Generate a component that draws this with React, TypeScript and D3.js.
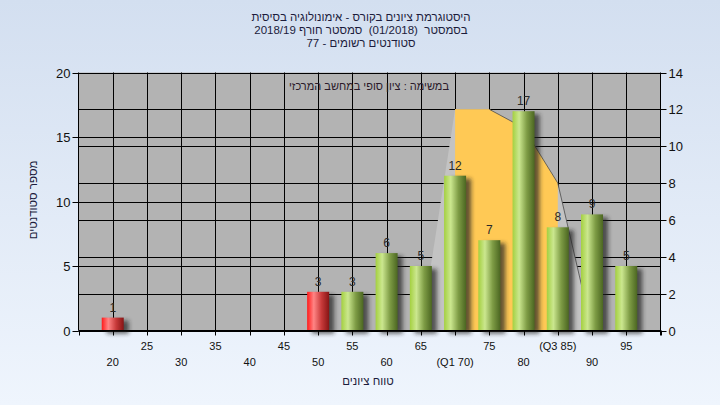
import React from "react";
import * as d3 from "d3";

const titleLines = [
  "היסטוגרמת ציונים בקורס - אימונולוגיה בסיסית",
  "בסמסטר  (01/2018)  סמסטר חורף 2018/19",
  "סטודנטים רשומים - 77",
];
const subTitle = "במשימה : ציון סופי במחשב המרכזי";
const yTitle = "מספר סטודנטים";
const xTitle = "טווח ציונים";

const categories = [20, 25, 30, 35, 40, 45, 50, 55, 60, 65, 70, 75, 80, 85, 90, 95];
const counts = [1, 0, 0, 0, 0, 0, 3, 3, 6, 5, 12, 7, 17, 8, 9, 5];
const passThreshold = 55;
const curveX = [65, 70, 75, 80, 85, 90];
const curveY = [0, 12, 12, 11, 8, 0];
const q1 = 70;
const q3 = 85;
const leftTicks = [0, 5, 10, 15, 20];
const rightTicks = [0, 2, 4, 6, 8, 10, 12, 14];
const xTickValues = [15, 20, 25, 30, 35, 40, 45, 50, 55, 60, 65, 70, 75, 80, 85, 90, 95, 100];

export default function App() {
  const W = 720, H = 405;
  const L = 78.5, R = 660.5, T = 72.5, B = 330.5;
  const x = d3.scaleLinear().domain([15, 100]).range([L, R]);
  const yL = d3.scaleLinear().domain([0, 20]).range([B, T]);
  const yR = d3.scaleLinear().domain([0, 14]).range([B, T]);
  const bw = 22;
  const font = "'Liberation Sans', Arial, sans-serif";

  const pts = curveX.map((v, i) => [v, curveY[i]] as [number, number]);
  const area = d3.area<[number, number]>().x(d => x(d[0])).y0(B).y1(d => yR(d[1]));
  const line = d3.line<[number, number]>().x(d => x(d[0])).y(d => yR(d[1]));
  const qPts = pts.filter(d => d[0] >= q1 && d[0] <= q3);
  const tailPts = pts.filter(d => d[0] >= 75);

  const labelFor = (c: number) => {
    if (c === q1) return `(Q1 ${c})`;
    if (c === q3) return `(Q3 ${c})`;
    return String(c);
  };

  return (
    <svg width={W} height={H} style={{ position: "absolute", left: 0, top: 0 }} fontFamily={font}>
      <defs>
        <linearGradient id="bg" x1="0" y1="0" x2="0" y2="1">
          <stop offset="0" stopColor="#d3dff0" />
          <stop offset="1" stopColor="#eff5fd" />
        </linearGradient>
        <linearGradient id="green" x1="0" y1="0" x2="1" y2="0">
          <stop offset="0" stopColor="#a4d040" />
          <stop offset="0.3" stopColor="#cbe78f" />
          <stop offset="0.65" stopColor="#7e9c45" />
          <stop offset="1" stopColor="#4b6621" />
        </linearGradient>
        <linearGradient id="red" x1="0" y1="0" x2="1" y2="0">
          <stop offset="0" stopColor="#ff1a1a" />
          <stop offset="0.3" stopColor="#ff8585" />
          <stop offset="0.65" stopColor="#c83a3a" />
          <stop offset="1" stopColor="#861414" />
        </linearGradient>
        <filter id="blur" x="-50%" y="-50%" width="200%" height="200%">
          <feGaussianBlur stdDeviation="2.2" />
        </filter>
      </defs>
      <rect x={0} y={0} width={W} height={H} fill="url(#bg)" />

      {titleLines.map((t, i) => (
        <text key={i} x={361} y={21 + i * 13} fontSize={11.5} textAnchor="middle" direction="rtl"
          style={{ whiteSpace: "pre" }} fill="#1c1c3c">{t}</text>
      ))}

      <rect x={L} y={T} width={R - L} height={B - T} fill="#b3b3b3" />

      {leftTicks.map(v => (
        <line key={"gl" + v} x1={L} x2={R} y1={Math.round(yL(v)) + 0.5} y2={Math.round(yL(v)) + 0.5} stroke="#000" />
      ))}
      {rightTicks.map(v => (
        <line key={"gr" + v} x1={L} x2={R} y1={Math.round(yR(v)) + 0.5} y2={Math.round(yR(v)) + 0.5} stroke="#000" />
      ))}
      {categories.map(c => (
        <line key={"gv" + c} x1={Math.round(x(c)) + 0.5} x2={Math.round(x(c)) + 0.5} y1={T} y2={B} stroke="#000" />
      ))}

      <path d={area(pts) || ""} fill="#c3c3c3" />
      <path d={area(qPts) || ""} fill="#ffc955" />
      <path d={line(tailPts) || ""} fill="none" stroke="#4a4a4a" strokeWidth={1} opacity={0.8} />

      <text x={369} y={90} fontSize={11} textAnchor="middle" direction="rtl" fill="#2a1a2a">{subTitle}</text>

      {categories.map((c, i) => {
        const v = counts[i];
        if (!v) return null;
        const cx = x(c);
        const top = yL(v);
        return (
          <g key={"b" + c}>
            <rect x={cx - bw / 2 + 5} y={top + 3} width={bw} height={B - top} fill="#202020" opacity={0.7} filter="url(#blur)" />
            <rect x={cx - bw / 2} y={top} width={bw} height={B - top} fill={c < passThreshold ? "url(#red)" : "url(#green)"} />
            <text x={cx} y={top - 6} fontSize={12} textAnchor="middle" fill="#2a2a2a">{v}</text>
          </g>
        );
      })}

      <line x1={L} x2={L} y1={T} y2={B} stroke="#000" />
      <line x1={R} x2={R} y1={T} y2={B + 5} stroke="#000" />
      <line x1={L} x2={R} y1={B} y2={B} stroke="#000" />
      {leftTicks.map(v => (
        <g key={"lt" + v}>
          <line x1={L - 6} x2={L} y1={Math.round(yL(v)) + 0.5} y2={Math.round(yL(v)) + 0.5} stroke="#000" />
          <text x={L - 8} y={yL(v) + 5} fontSize={13} textAnchor="end" fill="#111">{v}</text>
        </g>
      ))}
      {rightTicks.map(v => (
        <g key={"rt" + v}>
          <line x1={R} x2={R + 6} y1={Math.round(yR(v)) + 0.5} y2={Math.round(yR(v)) + 0.5} stroke="#000" />
          <text x={R + 8} y={yR(v) + 5} fontSize={13} textAnchor="start" fill="#111">{v}</text>
        </g>
      ))}
      {xTickValues.map(v => (
        <line key={"xt" + v} x1={Math.round(x(v)) + 0.5} x2={Math.round(x(v)) + 0.5} y1={B} y2={B + 5} stroke="#000" />
      ))}
      {categories.map((c, i) => (
        <text key={"xl" + c} x={x(c)} y={i % 2 === 0 ? 366 : 350} fontSize={11} textAnchor="middle" fill="#111">{labelFor(c)}</text>
      ))}

      <text x={368} y={385} fontSize={11.5} textAnchor="middle" direction="rtl" fill="#1c1c3c">{xTitle}</text>
      <text transform="translate(37,200) rotate(-90)" fontSize={11.5} textAnchor="middle" direction="rtl" fill="#1c1c3c">{yTitle}</text>
    </svg>
  );
}
